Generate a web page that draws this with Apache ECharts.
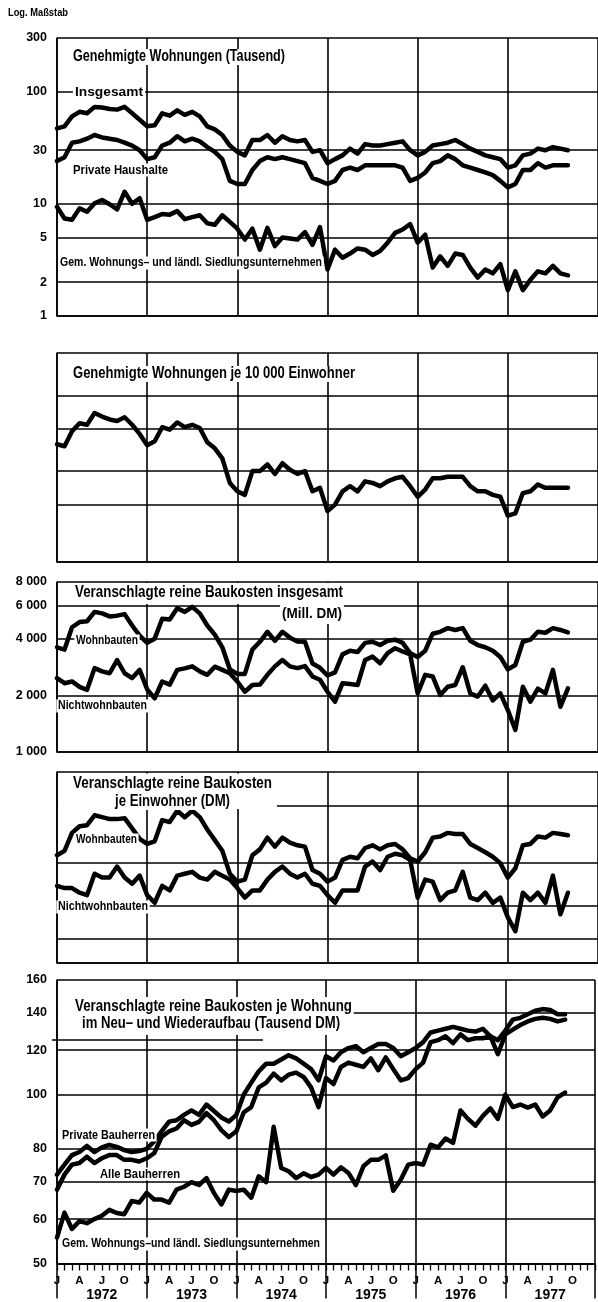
<!DOCTYPE html>
<html><head><meta charset="utf-8">
<script src="https://cdn.jsdelivr.net/npm/echarts@6/dist/echarts.min.js"></script>
<style>html,body{margin:0;padding:0;background:#fff}#c{width:598px;height:1302px}</style>
</head><body><div id="c"></div>
<script>
// ---------- tick labels / categories ----------
const years = ['1972','1973','1974','1975','1976','1977'];
const quarterLetters = ['J','A','J','O'];
const p1Ticks = [1,2,5,10,30,100,300];
const p2Ticks = [2,4,6,10,15,25];
const p3Ticks = [1000,2000,4000,6000,8000];
const p4Ticks = [15,20,30,50,100,150];
const p5Ticks = [50,60,70,80,100,120,140,160];

// ---------- series values (monthly, Jan 1972 – Sep 1977) ----------
// Panel 1: Genehmigte Wohnungen (Tausend)
const insgesamt = [47,49,60,66,64,73,72,70,69,73,64,56,49,50,64,61,68,62,66,60,49,46,41,33,29,27,37,37,41,35,40,37,36,37,29,30,23,25,27,31,28,34,33,33,34,35,36,30,27,29,33,34,35,37,34,31,29,27,26,25,21,22,27,28,31,30,32,31,30];
const privateHaushalte = [24,26,35,36,38,41,39,38,37,35,33,30,25,26,33,35,40,36,38,36,32,29,25,16,15,15,20,24,26,25,26,25,24,23,17,16,15,16,20,21,20,22,22,22,22,22,21,16,17,19,23,24,27,25,22,21,20,19,18,16,14,15,20,20,23,21,22,22,22];
const gemUnternehmen = [9.4,7.4,7.2,9.1,8.5,10.1,10.8,9.9,8.9,12.8,10.0,11.2,7.2,7.6,8.1,8.0,8.6,7.3,7.6,7.9,6.7,6.5,7.9,6.9,6.0,4.8,6.0,3.9,6.1,4.2,5.0,4.9,4.8,5.6,4.3,6.2,2.6,3.9,3.3,3.6,4.0,3.9,3.5,3.8,4.5,5.5,5.9,6.6,4.5,5.3,2.7,3.4,2.8,3.6,3.5,2.7,2.2,2.6,2.4,2.9,1.7,2.5,1.7,2.1,2.5,2.4,2.8,2.4,2.3];
// Panel 2: Genehmigte Wohnungen je 10 000 Einwohner
const jeEinwohner = [8.3,8.1,9.7,10.7,10.5,12.1,11.6,11.2,11.0,11.5,10.5,9.4,8.2,8.6,10.2,9.9,10.8,10.2,10.5,10.1,8.5,7.9,7.0,5.2,4.7,4.5,6.0,6.0,6.5,5.8,6.6,6.1,5.8,6.0,4.7,4.9,3.7,4.0,4.7,5.0,4.7,5.3,5.2,5.0,5.3,5.5,5.6,5.0,4.4,4.8,5.5,5.5,5.6,5.6,5.6,5.0,4.7,4.7,4.5,4.4,3.5,3.6,4.6,4.7,5.1,4.9,4.9,4.9,4.9];
// Panel 3: Veranschlagte reine Baukosten insgesamt (Mill. DM)
const wohnInsg = [3600,3500,4600,4900,4950,5550,5450,5250,5300,5400,4700,4150,3800,4000,5100,5050,5800,5550,5900,5450,4700,4200,3600,2750,2600,2600,3500,3850,4350,3900,4350,4050,3860,3850,2950,2800,2550,2650,3300,3450,3400,3800,3850,3700,3900,3950,3800,3350,3200,3450,4250,4350,4550,4450,4550,3900,3700,3600,3450,3200,2750,2900,3850,3950,4350,4300,4550,4450,4320];
const nichtInsg = [2470,2320,2370,2220,2140,2790,2680,2620,3080,2620,2470,2730,2150,1930,2370,2280,2730,2780,2850,2680,2570,2840,2730,2620,2370,2090,2270,2280,2570,2850,3080,2850,2790,2860,2520,2420,2090,1850,2320,2300,2270,3080,3210,2960,3350,3560,3420,3300,2050,2570,2520,2010,2220,2270,2820,2050,1970,2250,1880,2050,1670,1310,2220,1850,2170,2050,2730,1740,2180];
// Panel 4: Veranschlagte reine Baukosten je Einwohner (DM)
const wohnJeEw = [55,58,72,78,79,89,87,85,85,86,76,67,63,65,84,82,94,87,94,87,75,66,58,44,40,41,55,59,68,61,68,64,62,61,46,44,40,42,52,54,53,60,62,59,62,63,59,53,51,57,68,69,72,71,71,63,60,57,54,50,42,47,62,63,69,68,72,71,70];
const nichtJeEw = [38,37,37,35,34,44,42,42,48,42,39,43,34,31,38,36,43,44,45,42,41,45,43,41,37,33,36,36,41,45,48,44,42,44,39,38,34,31,36,36,36,48,51,46,54,56,55,52,33,41,40,32,35,36,45,33,32,35,31,33,26,22,35,32,35,31,43,27,35];
// Panel 5: Veranschlagte reine Baukosten je Wohnung (Tausend DM)
const privateBauherren = [72,75,78,79,81,79,80.5,81.3,80.7,79.6,79,79.3,80,82.5,86,89.5,90,92,93.7,92,96,93.5,91,89.5,92,100,105,110,113.5,113.5,115.5,117.5,116,113.5,111,106,117,115,119,121,122,119,121,123,123,121,117,119,121,124,129,130,131,132,131,130,129.5,131,127,125,130,136,137,139,141,142,141.5,139,139];
const alleBauherren = [67.7,72,75,75.5,77.5,75.5,77,78,78,76.5,76.5,76,77,78.6,84,86,87,90,88.3,89.4,92.7,90,86.4,84,86,93,95,103,105,109,106,108.5,109.4,107.5,103,95,107,104.4,112,114,113,112,116,110.5,116.5,111,106,107,111,114,124,125,127,123.5,128,125,126,126,127,118,128,130.5,133,135,136.4,137,136.4,135,136];
const gemJeWohnung = [55.6,61.6,57.6,59.5,59,60,60.8,62.3,61.5,61.2,64.6,64.2,66.8,65,65,64.2,67.7,68.5,69.8,69,71,66.8,63.7,67.7,67.3,67.7,65.5,71.5,69.8,87.6,74,73,71,72.4,71.3,72,74,72,74.2,72.5,69,74.5,76.5,76.5,77.9,67.4,70.5,75,75.5,75,81.4,80.5,83.5,82,93.7,90.5,88,91.6,94.5,90.5,100,95,96,94.8,96,91.4,93.7,98.9,100.8];

// ---------- chart ----------
const FF = '"Liberation Sans Narrow","Liberation Sans",Arial,sans-serif';
const BLACK = '#000';
const fmt = v => v >= 1000 ? String(v).replace(/\B(?=(\d{3})+(?!\d))/g, ' ') : String(v);

const panels = [
  {top: 38,  height: 278, ticks: p1Ticks, labels: true},
  {top: 353, height: 209, ticks: p2Ticks, labels: false},
  {top: 582, height: 170, ticks: p3Ticks, labels: true},
  {top: 772, height: 191, ticks: p4Ticks, labels: false},
  {top: 980, height: 287, ticks: p5Ticks, labels: true}
];

const grid = panels.map(p => ({left: 57, width: 542, top: p.top, height: p.height}));

const xAxis = panels.map((p, g) => ({
  gridIndex: g, type: 'value', min: 0, max: 72, interval: 12,
  axisLine: {show: true, onZero: false, lineStyle: {color: BLACK, width: 1.5}},
  axisTick: {show: g === 4, length: 35, lineStyle: {color: BLACK, width: 1.5}},
  axisLabel: {show: false},
  splitLine: {show: true, lineStyle: {color: BLACK, width: 1.6}}
}));
// monthly ticks and labels under the last panel
xAxis.push({
  gridIndex: 4, type: 'value', min: 0, max: 72, interval: 1, position: 'bottom',
  axisLine: {show: true, onZero: false, lineStyle: {color: BLACK, width: 1.5}},
  axisTick: {show: true, length: 7, lineStyle: {color: BLACK, width: 1.3}},
  splitLine: {show: false},
  axisLabel: {
    show: true, margin: 11, interval: 0, hideOverlap: false,
    formatter: v => {
      if (v >= 72) return '';
      const m = v % 12;
      const q = [0, 3, 6, 9].indexOf(m);
      if (q < 0) return '';
      if (m === 6) return '{m|' + quarterLetters[q] + '}\n{y|' + years[Math.floor(v / 12)] + '}';
      return '{m|' + quarterLetters[q] + '}';
    },
    rich: {
      m: {fontFamily: FF, fontWeight: 'bold', fontSize: 11.5, color: BLACK, lineHeight: 13},
      y: {fontFamily: FF, fontWeight: 'bold', fontSize: 14, color: BLACK, lineHeight: 15}
    }
  }
});

const yAxis = panels.map((p, g) => ({
  gridIndex: g, type: 'log', logBase: 10,
  min: p.ticks[0], max: p.ticks[p.ticks.length - 1],
  axisLine: {show: true, onZero: false, lineStyle: {color: BLACK, width: 1.5}},
  axisTick: {show: false}, axisLabel: {show: false}, splitLine: {show: false}
}));

function gridLines(p) {
  return {
    silent: true, symbol: ['none', 'none'], animation: false,
    lineStyle: {color: BLACK, width: 1.5, type: 'solid'},
    emphasis: {disabled: true},
    label: {show: p.labels, position: 'start', distance: 10, formatter: q => fmt(q.value),
            color: BLACK, fontFamily: FF, fontWeight: 'bold', fontSize: 12.5},
    data: p.ticks.map(v => ({yAxis: v}))
  };
}

function line(g, arr, withGrid) {
  const s = {
    type: 'line', xAxisIndex: g, yAxisIndex: g, silent: true, z: 3,
    data: arr.map((v, i) => [i, v]), symbol: 'none', showSymbol: false,
    lineStyle: {color: BLACK, width: 4.5, cap: 'round', join: 'round'},
    emphasis: {disabled: true}
  };
  if (withGrid) s.markLine = gridLines(panels[g]);
  return s;
}

const series = [
  line(0, insgesamt, true), line(0, privateHaushalte), line(0, gemUnternehmen),
  line(1, jeEinwohner, true),
  line(2, wohnInsg, true), line(2, nichtInsg),
  line(3, wohnJeEw, true), line(3, nichtJeEw),
  line(4, privateBauherren, true), line(4, alleBauherren), line(4, gemJeWohnung)
];

// condensed text: measured and squeezed horizontally to the printed width
const mctx = document.createElement('canvas').getContext('2d');
function txt(x, y, s, size, w, opt) {
  opt = opt || {};
  const font = 'bold ' + size + 'px ' + FF;
  mctx.font = font;
  const sx = w ? w / mctx.measureText(s).width : 1;
  const pad = 2;
  return {type: 'text', z: 100, silent: true, x: x - pad * sx, y: y, scaleX: sx, originX: 0, originY: 0,
    style: {x: 0, y: 0, text: s, fill: BLACK, verticalAlign: 'middle', align: 'left', font: font,
      backgroundColor: opt.bg === false ? 'transparent' : '#fff', padding: opt.pad || [0, pad, 0, pad]}};
}
function box(x, y, w, h) {
  return {type: 'rect', z: 99, silent: true, shape: {x: x, y: y, width: w, height: h}, style: {fill: '#fff'}};
}

const graphic = {elements: [
  txt(8, 13, 'Log. Maßstab', 11, 60, {bg: false}),
  txt(73, 57, 'Genehmigte Wohnungen (Tausend)', 16, 212),
  txt(75, 92, 'Insgesamt', 13, 68),
  txt(73, 170, 'Private Haushalte', 13, 95),
  txt(60, 263, 'Gem. Wohnungs– und ländl. Siedlungsunternehmen', 12.5, 262),
  txt(73, 374, 'Genehmigte Wohnungen je 10 000 Einwohner', 16, 282),
  box(58, 583, 288, 21),
  txt(75, 593, 'Veranschlagte reine Baukosten insgesamt', 16, 268),
  txt(282, 614, '(Mill. DM)', 14, 60, {pad: [3, 2, 3, 2]}),
  txt(76, 641, 'Wohnbauten', 12.5, 62),
  txt(58, 706, 'Nichtwohnbauten', 12.5, 89),
  box(58, 773.5, 219, 35.5),
  txt(73, 784, 'Veranschlagte reine Baukosten', 16, 199),
  txt(115, 802, 'je Einwohner (DM)', 16, 115),
  txt(76, 840, 'Wohnbauten', 12.5, 61),
  txt(58, 907, 'Nichtwohnbauten', 12.5, 90),
  box(58, 997, 294, 38),
  {type: 'line', z: 99, silent: true, shape: {x1: 52, y1: 1040, x2: 263, y2: 1040}, style: {stroke: BLACK, lineWidth: 1.5}},
  txt(75, 1007, 'Veranschlagte reine Baukosten je Wohnung', 16, 277),
  txt(82, 1024, 'im Neu– und Wiederaufbau (Tausend DM)', 16, 258),
  txt(62, 1135, 'Private Bauherren', 13, 93),
  txt(100, 1174, 'Alle Bauherren', 13, 80),
  txt(62, 1244, 'Gem. Wohnungs–und ländl. Siedlungsunternehmen', 12.5, 258)
]};

const chart = echarts.init(document.getElementById('c'), null, {renderer: 'canvas'});
chart.setOption({
  animation: false, backgroundColor: '#fff',
  grid: grid, xAxis: xAxis, yAxis: yAxis, series: series, graphic: graphic
});
</script>
</body></html>
